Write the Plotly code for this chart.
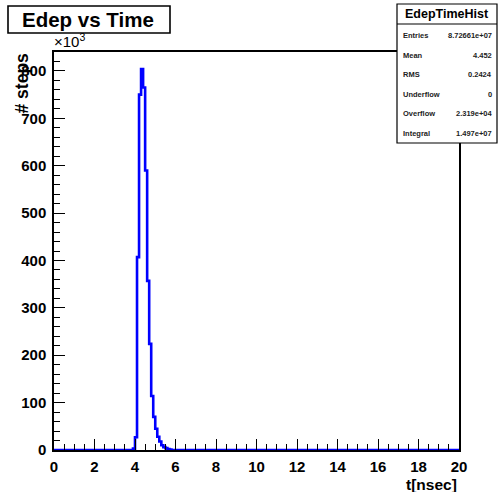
import numpy as np
import plotly.graph_objects as go

# ---- data (values in units of 10^3 steps) ----
bin_width = 0.1
x_min, x_max = 0.0, 20.0
peak_bin_starts = [3.9, 4.0, 4.1, 4.2, 4.3, 4.4, 4.5, 4.6, 4.7, 4.8, 4.9, 5.0, 5.1, 5.2, 5.3, 5.4, 5.5, 5.6, 5.7]
peak_counts = [3, 27, 407, 750, 804, 765, 590, 357, 224, 114, 70, 45, 28, 18, 10, 6, 4, 2, 1]

x_ticks = [0, 2, 4, 6, 8, 10, 12, 14, 16, 18, 20]
y_ticks = [0, 100, 200, 300, 400, 500, 600, 700, 800]

stats_title = "EdepTimeHist"
stats_labels = ["Entries", "Mean", "RMS", "Underflow", "Overflow", "Integral"]
stats_values = ["8.72661e+07", "4.452", "0.2424", "0", "2.319e+04", "1.497e+07"]

# build full histogram
n_bins = int(round((x_max - x_min) / bin_width))
edges = np.round(np.linspace(x_min, x_max, n_bins + 1), 6)
counts = np.zeros(n_bins)
for s, c in zip(peak_bin_starts, peak_counts):
    idx = int(round((s - x_min) / bin_width))
    counts[idx] = c
xs = list(edges)
ys = list(counts) + [counts[-1]]

# ---- layout geometry (pixels) ----
W, H = 498, 492
L, R, T, B = 54, 459, 52, 450
pw, ph = R - L, B - T


def px(x):
    return (x - L) / pw


def py(y):
    return (B - y) / ph


FONT = "Liberation Sans"

fig = go.Figure()
fig.add_trace(go.Scatter(
    x=xs, y=ys, mode="lines", line=dict(color="#0000ff", width=2.6, shape="hv"),
    hoverinfo="skip", showlegend=False, cliponaxis=False))

fig.update_layout(
    width=W, height=H,
    margin=dict(l=L, r=W - R, t=T, b=H - B, pad=0),
    paper_bgcolor="white", plot_bgcolor="white",
    font=dict(family=FONT, color="black"),
    showlegend=False,
)

fig.update_xaxes(
    range=[x_min, x_max], tickvals=x_ticks, ticktext=[str(v) for v in x_ticks],
    ticks="inside", ticklen=11, tickwidth=1, tickcolor="black",
    minor=dict(ticks="inside", ticklen=6, dtick=0.5, tickcolor="black", tickwidth=1),
    showline=True, linecolor="black", linewidth=1.5, mirror=True,
    showgrid=False, zeroline=False,
    tickfont=dict(family=FONT, size=15, weight="bold", color="black"),
    ticklabelstandoff=2,
)
fig.update_yaxes(
    range=[0, 840], tickvals=y_ticks, ticktext=[str(v) for v in y_ticks],
    ticks="inside", ticklen=11, tickwidth=1, tickcolor="black",
    minor=dict(ticks="inside", ticklen=6, dtick=20, tickcolor="black", tickwidth=1),
    showline=True, linecolor="black", linewidth=1.5, mirror=True,
    showgrid=False, zeroline=False,
    tickfont=dict(family=FONT, size=15, weight="bold", color="black"),
    ticklabelstandoff=3,
)

shapes = []
annotations = []

# title box
shapes.append(dict(type="rect", xref="paper", yref="paper",
                   x0=px(8), x1=px(170), y0=py(33), y1=py(6),
                   line=dict(color="black", width=1.6), fillcolor="white", layer="above"))
annotations.append(dict(xref="paper", yref="paper", x=px(88), y=py(19.5),
                        text="<b>Edep vs Time</b>", showarrow=False,
                        xanchor="center", yanchor="middle",
                        font=dict(family=FONT, size=20.5, color="black")))

# stats box
sx0, sx1, sy0, sy1 = 397, 497, 4, 143
shapes.append(dict(type="rect", xref="paper", yref="paper",
                   x0=px(sx0), x1=px(sx1), y0=py(sy1), y1=py(sy0),
                   line=dict(color="black", width=1.2), fillcolor="white", layer="above"))
shapes.append(dict(type="line", xref="paper", yref="paper",
                   x0=px(sx0), x1=px(sx1), y0=py(24), y1=py(24),
                   line=dict(color="black", width=1.2), layer="above"))
annotations.append(dict(xref="paper", yref="paper", x=px((sx0 + sx1) / 2), y=py(14),
                        text="<b>" + stats_title + "</b>", showarrow=False,
                        xanchor="center", yanchor="middle",
                        font=dict(family=FONT, size=12.5, color="black")))
row_y0, row_dy = 35.5, 19.6
for i, (lab, val) in enumerate(zip(stats_labels, stats_values)):
    yy = row_y0 + i * row_dy
    annotations.append(dict(xref="paper", yref="paper", x=px(401), y=py(yy),
                            text=lab, showarrow=False, xanchor="left", yanchor="middle",
                            font=dict(family=FONT, size=7.5, weight="bold", color="#222222")))
    annotations.append(dict(xref="paper", yref="paper", x=px(494), y=py(yy),
                            text=val, showarrow=False, xanchor="right", yanchor="middle",
                            font=dict(family=FONT, size=7.5, weight="bold", color="#222222")))

# exponent label
annotations.append(dict(xref="paper", yref="paper", x=px(52), y=py(52),
                        text="×10<sup>3</sup>", showarrow=False,
                        xanchor="left", yanchor="bottom",
                        font=dict(family=FONT, size=15, color="black")))
# y title
annotations.append(dict(xref="paper", yref="paper", x=px(21), y=py(51),
                        text="<b># steps</b>", showarrow=False, textangle=-90,
                        xanchor="center", yanchor="top",
                        font=dict(family=FONT, size=17.5, color="black")))
# x title
annotations.append(dict(xref="paper", yref="paper", x=px(459), y=py(484),
                        text="<b>t[nsec]</b>", showarrow=False,
                        xanchor="right", yanchor="middle",
                        font=dict(family=FONT, size=15.5, color="black")))

fig.update_layout(shapes=shapes, annotations=annotations)
fig.write_html("out.html")
